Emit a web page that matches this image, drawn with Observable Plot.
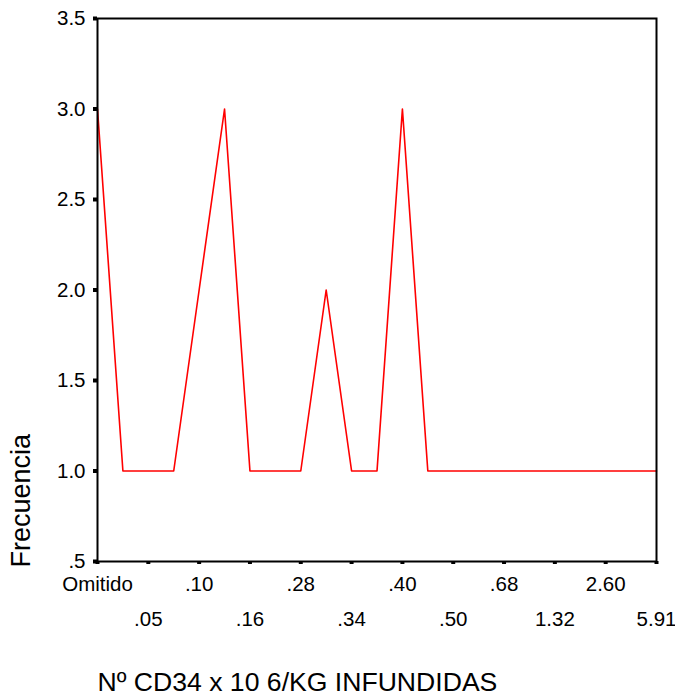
<!DOCTYPE html>
<html><head><meta charset="utf-8">
<script src="https://cdn.jsdelivr.net/npm/d3@7"></script>
<script src="https://cdn.jsdelivr.net/npm/@observablehq/plot@0.6"></script>
<style>body{margin:0;background:#fff;} svg{display:block}</style>
</head><body><div id="chart"></div>
<script>
// 23 ordered categories (only every second one is labelled on the axis)
const categoryIndex = [0,1,2,3,4,5,6,7,8,9,10,11,12,13,14,15,16,17,18,19,20,21,22];
const frequency = [3,1,1,1,2,3,1,1,1,2,1,1,3,1,1,1,1,1,1,1,1,1,1];
const xTickIndex = [0,2,4,6,8,10,12,14,16,18,20,22];
const xTickLabels = ["Omitido",".05",".10",".16",".28",".34",".40",".50",".68","1.32","2.60","5.91"];
const xRow1 = [0,4,8,12,16,20];
const xRow2 = [2,6,10,14,18,22];
const yTicks = [0.5,1,1.5,2,2.5,3,3.5];
const yTickLabels = [".5","1.0","1.5","2.0","2.5","3.0","3.5"];
const xTitle = "Nº CD34 x 10 6/KG INFUNDIDAS";
const yTitle = "Frecuencia";

const data = categoryIndex.map(i => ({i, f: frequency[i]}));
const labelOf = new Map(xTickIndex.map((t, k) => [t, xTickLabels[k]]));
const yLabelOf = new Map(yTicks.map((t, k) => [t, yTickLabels[k]]));

const plot = Plot.plot({
  width: 675, height: 697,
  marginLeft: 97, marginRight: 19, marginTop: 18, marginBottom: 136,
  style: {fontFamily: "'Liberation Sans', Arial, sans-serif", fontSize: "20px", background: "#fff", color: "#000"},
  x: {type: "point", domain: categoryIndex, padding: 0, round: false},
  y: {domain: [0.5, 3.5]},
  marks: [
    Plot.line(data, {x: "i", y: "f", stroke: "#ff0000", strokeWidth: 1.6}),
    Plot.frame({stroke: "#000", strokeWidth: 2}),
    Plot.axisY({ticks: yTicks, tickFormat: d => yLabelOf.get(d), tickSize: 4, tickPadding: 8, strokeWidth: 4, label: null, fontSize: 20.5}),
    Plot.axisX({ticks: xTickIndex, tickSize: 3, strokeWidth: 4, tickFormat: () => "", label: null}),
    Plot.axisX({ticks: xRow1, tickSize: 0, tickPadding: 15, tickFormat: d => labelOf.get(d), label: null, fontSize: 20.5}),
    Plot.axisX({ticks: xRow2, tickSize: 0, tickPadding: 50, tickFormat: d => labelOf.get(d), label: null, fontSize: 20.5}),
    Plot.text([xTitle], {text: d => d, frameAnchor: "bottom-left", dy: 121, lineAnchor: "middle", textAnchor: "start", fontSize: 26.6}),
    Plot.text([yTitle], {text: d => d, frameAnchor: "bottom-left", rotate: -90, textAnchor: "start", lineAnchor: "middle", dx: -76, dy: 6, fontSize: 27})
  ]
});
document.getElementById("chart").appendChild(plot);
</script>
</body></html>
